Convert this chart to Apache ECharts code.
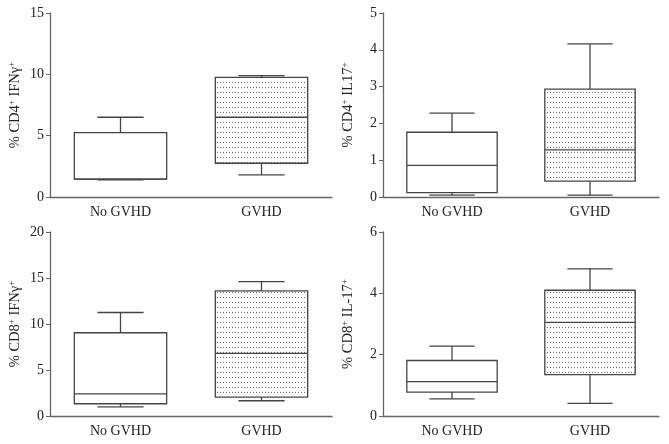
<!DOCTYPE html>
<html><head><meta charset="utf-8">
<script src="https://cdn.jsdelivr.net/npm/echarts@6/dist/echarts.min.js"></script>
<style>html,body{margin:0;padding:0;background:#fff}#c{width:669px;height:444px}</style>
</head><body><div id="c"></div>
<script>
const categories = ['No GVHD', 'GVHD'];
// [min, Q1, median, Q3, max]
const cd4IfngNo   = [1.4, 1.45, 1.45, 5.25, 6.5];
const cd4IfngGv   = [1.8, 2.75, 6.5, 9.75, 9.9];
const cd4Il17No   = [0.05, 0.12, 0.86, 1.76, 2.28];
const cd4Il17Gv   = [0.05, 0.43, 1.28, 2.93, 4.16];
const cd8IfngNo   = [1.0, 1.33, 2.4, 9.05, 11.25];
const cd8IfngGv   = [1.66, 2.06, 6.8, 13.6, 14.6];
const cd8Il17No   = [0.56, 0.78, 1.12, 1.81, 2.28];
const cd8Il17Gv   = [0.41, 1.35, 3.05, 4.1, 4.8];
const yMax = [15, 5, 20, 6];
const yInterval = [5, 1, 5, 2];
const yNames = [
  '% CD4{sup|+} IFNγ{sup|+}',
  '% CD4{sup|+} IL17{sup|+}',
  '% CD8{sup|+} IFNγ{sup|+}',
  '% CD8{sup|+} IL-17{sup|+}'
];
const panels = [[cd4IfngNo, cd4IfngGv],[cd4Il17No, cd4Il17Gv],[cd8IfngNo, cd8IfngGv],[cd8Il17No, cd8Il17Gv]];

const pc = document.createElement('canvas');
pc.width = 3; pc.height = 5;
const pctx = pc.getContext('2d');
pctx.fillStyle = '#fff'; pctx.fillRect(0,0,3,5);
pctx.fillStyle = '#666'; pctx.fillRect(1,2,1,1);

const font = 'Liberation Serif';
const grids = [
  {left: 50, top: 13, width: 282, height: 184},
  {left: 383, top: 13, width: 276, height: 184},
  {left: 50, top: 232, width: 282, height: 184},
  {left: 383, top: 232, width: 276, height: 184}
];
const lineCol = '#444';
const axisCol = '#666';
const xAxis = [], yAxis = [], series = [];
panels.forEach((p, i) => {
  xAxis.push({type: 'category', gridIndex: i, data: categories,
    axisLine: {lineStyle: {color: axisCol, width: 1.3}},
    axisTick: {alignWithLabel: true, length: 5, lineStyle: {color: '#333'}},
    axisLabel: {fontFamily: font, fontSize: 14, color: '#222', margin: 8}});
  yAxis.push({type: 'value', gridIndex: i, min: 0, max: yMax[i], interval: yInterval[i],
    splitLine: {show: false},
    axisLine: {show: true, lineStyle: {color: axisCol, width: 1.3}},
    axisTick: {show: true, length: 4, lineStyle: {color: axisCol}},
    axisLabel: {fontFamily: font, fontSize: 14, color: '#222', margin: 6},
    name: yNames[i], nameLocation: 'middle', nameGap: 26, nameRotate: 90,
    nameTextStyle: {fontFamily: font, fontSize: 14.5, color: '#222',
      rich: {sup: {fontFamily: font, fontSize: 9, color: '#222', verticalAlign: 'top', padding: [0,0,8,0]}}}});
  series.push({type: 'custom', xAxisIndex: i, yAxisIndex: i,
    data: p.map((v, k) => [k].concat(v)),
    renderItem: function (params, api) {
      const k = api.value(0);
      const band = api.size([1, 0])[0];
      const bw = band * 0.655;
      const cap = bw / 2;
      const pMin = api.coord([k, api.value(1)]);
      const pQ1 = api.coord([k, api.value(2)]);
      const pMed = api.coord([k, api.value(3)]);
      const pQ3 = api.coord([k, api.value(4)]);
      const pMax = api.coord([k, api.value(5)]);
      const x = pMin[0];
      const st = {stroke: lineCol, lineWidth: 1.3};
      return {type: 'group', children: [
        {type: 'line', shape: {x1: x, y1: pQ3[1], x2: x, y2: pMax[1]}, style: st},
        {type: 'line', shape: {x1: x, y1: pQ1[1], x2: x, y2: pMin[1]}, style: st},
        {type: 'line', shape: {x1: x - cap/2, y1: pMax[1], x2: x + cap/2, y2: pMax[1]}, style: st},
        {type: 'line', shape: {x1: x - cap/2, y1: pMin[1], x2: x + cap/2, y2: pMin[1]}, style: st},
        {type: 'rect', shape: {x: x - bw/2, y: pQ3[1], width: bw, height: pQ1[1] - pQ3[1]},
          style: {fill: k === 1 ? {image: pc, repeat: 'repeat'} : '#fff', stroke: lineCol, lineWidth: 1.3}},
        {type: 'line', shape: {x1: x - bw/2, y1: pMed[1], x2: x + bw/2, y2: pMed[1]}, style: st}
      ]};
    }});
});
const chart = echarts.init(document.getElementById('c'), null, {renderer: 'canvas'});
chart.setOption({animation: false, backgroundColor: '#fff', grid: grids, xAxis, yAxis, series});
</script></body></html>
